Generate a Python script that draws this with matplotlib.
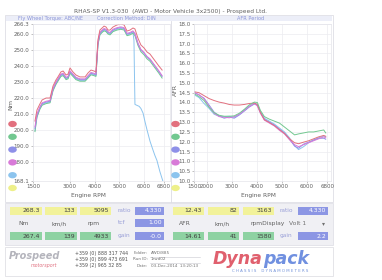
import matplotlib
matplotlib.use("Agg")
import matplotlib.pyplot as plt
from matplotlib.patches import Rectangle, Circle

W, H = 382, 280

# ---------------- data ----------------
torque_rpm = [1580, 1660, 1780, 1870, 2030, 2190, 2310, 2430, 2510, 2630, 2720, 2840, 2920, 3000,
              3120, 3240, 3400, 3610, 3730, 3850, 3970, 4050, 4130, 4210, 4300, 4380, 4460, 4540,
              4620, 4740, 4900, 5060, 5190, 5310, 5430, 5550, 5630, 5750, 5870, 6000, 6120, 6240,
              6360, 6480, 6600, 6730]
torque_red = [205.6, 212.5, 216.3, 218.8, 220.0, 220.0, 227.5, 231.3, 233.2, 236.3, 236.9, 234.4,
              235.0, 238.8, 236.3, 234.4, 233.2, 233.2, 235.7, 237.5, 236.9, 236.3, 256.3, 262.5,
              263.8, 265.0, 264.4, 262.5, 262.5, 264.4, 265.7, 266.3, 265.7, 261.9, 262.5, 263.8,
              263.2, 257.5, 253.2, 251.3, 248.8, 247.5, 245.0, 242.5, 240.0, 237.5]
torque_green = [199.0, 208.0, 213.0, 215.5, 216.5, 217.0, 224.5, 228.5, 230.5, 233.5, 234.0, 231.5,
                232.0, 235.5, 233.5, 231.5, 230.5, 230.5, 232.5, 234.5, 234.0, 233.5, 253.0, 259.5,
                261.0, 262.0, 261.5, 260.0, 259.5, 261.5, 262.5, 263.0, 262.5, 259.0, 259.5, 260.5,
                259.0, 253.0, 249.0, 247.0, 244.5, 243.0, 240.5, 238.0, 235.5, 232.5]
torque_blue = [201.0, 209.0, 214.0, 216.5, 217.5, 218.0, 225.5, 229.5, 231.5, 234.5, 235.0, 232.5,
               233.0, 236.5, 234.5, 232.5, 231.5, 231.5, 233.5, 235.5, 235.0, 234.5, 254.0, 260.5,
               262.0, 263.0, 262.5, 261.0, 260.5, 262.5, 263.5, 264.0, 263.5, 260.0, 260.5, 261.5,
               260.0, 254.0, 250.0, 248.0, 245.5, 244.0, 241.5, 239.0, 236.5, 233.5]
torque_magenta = [202.0, 210.0, 214.5, 217.0, 218.0, 218.5, 226.0, 230.0, 232.0, 235.0, 235.5, 233.0,
                  233.5, 237.0, 235.0, 233.0, 232.0, 232.0, 234.0, 236.0, 235.5, 235.0, 254.5, 261.0,
                  262.5, 263.5, 263.0, 261.5, 261.0, 263.0, 264.0, 264.5, 264.0, 260.5, 261.0, 262.0,
                  260.5, 254.5, 250.5, 248.5, 246.0, 244.5, 242.0, 239.5, 237.0, 234.0]
lb_rpm = [1580, 1660, 1780, 1870, 2030, 2190, 2310, 2430, 2510, 2630, 2720, 2840, 2920, 3000,
          3120, 3240, 3400, 3610, 3730, 3850, 3970, 4050, 4130, 4210, 4300, 4380, 4460, 4540,
          4620, 4740, 4900, 5060, 5190, 5310, 5430, 5550, 5590, 5610, 5630, 5700, 5800, 5870,
          5960, 6040, 6120, 6240, 6360, 6440, 6520, 6640, 6760]
torque_lightblue = [199.5, 208.5, 213.5, 216.0, 217.0, 217.5, 225.0, 229.0, 231.0, 234.0, 234.5, 232.0,
                    232.5, 236.0, 234.0, 232.0, 231.0, 231.0, 233.0, 235.0, 234.5, 234.0, 253.5, 260.0,
                    261.5, 262.5, 262.0, 260.5, 260.0, 262.0, 263.0, 263.5, 263.0, 259.5, 260.0, 261.0,
                    256.0, 235.0, 216.0, 215.5, 214.8, 213.5, 210.5, 205.0, 200.0, 193.0, 187.5,
                    184.0, 181.0, 174.0, 168.1]

afr_rpm = [1500, 1700, 1900, 2100, 2300, 2500, 2700, 2900, 3100, 3300, 3500, 3700, 3900, 4020,
           4140, 4300, 4500, 4700, 4900, 5100, 5300, 5500, 5660, 5860, 6060, 6260, 6460, 6660, 6740]
afr_red = [14.55, 14.50, 14.35, 14.20, 14.10, 14.02, 13.97, 13.90, 13.87, 13.87, 13.90, 13.95, 13.97,
           13.90, 13.50, 13.12, 12.98, 12.82, 12.62, 12.42, 12.15, 11.95, 11.90, 11.98, 12.05, 12.15,
           12.25, 12.32, 12.28]
afr_green = [14.45, 14.30, 14.10, 13.75, 13.48, 13.35, 13.30, 13.30, 13.32, 13.45, 13.65, 13.88, 14.02,
             14.00, 13.60, 13.28, 13.15, 13.05, 12.95, 12.75, 12.55, 12.35, 12.40, 12.45, 12.50, 12.50,
             12.55, 12.60, 12.45]
afr_blue = [14.53, 14.38, 14.22, 13.87, 13.51, 13.31, 13.20, 13.26, 13.20, 13.36, 13.56, 13.77, 13.92,
            13.87, 13.51, 13.15, 13.00, 12.85, 12.64, 12.44, 12.13, 11.78, 11.67, 11.88, 11.98, 12.08,
            12.18, 12.18, 12.13]
afr_magenta = [14.48, 14.40, 14.18, 13.80, 13.45, 13.28, 13.25, 13.22, 13.28, 13.40, 13.60, 13.80, 13.95,
               13.82, 13.45, 13.10, 12.95, 12.80, 12.58, 12.40, 12.10, 11.85, 11.75, 11.85, 11.95, 12.05,
               12.15, 12.25, 12.20]
afr_lightblue = [14.40, 14.25, 13.95, 13.70, 13.40, 13.30, 13.28, 13.30, 13.25, 13.40, 13.62, 13.82, 13.98,
                 13.90, 13.55, 13.20, 13.05, 12.90, 12.70, 12.50, 12.20, 11.80, 11.60, 11.75, 11.95, 12.10,
                 12.20, 12.30, 12.25]

torque_ticks = [266.3, 260.0, 250.0, 240.0, 230.0, 220.0, 210.0, 200.0, 190.0, 180.0, 168.1]
afr_ticks = [18.0, 17.5, 17.0, 16.5, 16.0, 15.5, 15.0, 14.5, 14.0, 13.5, 13.0, 12.5, 12.0, 11.5, 11.0, 10.5, 10.0]
left_xticks = [1500, 3000, 4000, 5000, 6000, 6800]
right_xticks = [1500, 2000, 3000, 4000, 5000, 6000, 6800]

readout_left_top = ["268.3", "133", "5095"]
readout_left_units = ["Nm", "km/h", "rpm"]
readout_left_bot = ["267.4", "139", "4933"]
readout_left_side = [("ratio", "4.330"), ("tcf", "1.00"), ("gain", "-0.0")]
readout_right_top = ["12.43", "82", "3163"]
readout_right_units = ["AFR", "km/h", "rpmDisplay"]
readout_right_bot = ["14.61", "41", "1580"]
readout_right_side = [("ratio", "4.330"), ("gain", "2.2")]

C_RED, C_GREEN, C_BLUE = "#e2707e", "#72c890", "#8e90e8"
C_MAG, C_LBLUE, C_YEL = "#d87ad8", "#8cc4ee", "#eef08a"
dot_colors = [C_RED, C_GREEN, C_BLUE, C_MAG, C_LBLUE, C_YEL]

# ---------------- figure ----------------
fig = plt.figure(figsize=(W / 100, H / 100), dpi=100)
fig.patch.set_facecolor("white")


def fx(x):
    return x / W


def fy(y):
    return 1 - y / H


def rect(x0, y0, x1, y1, fc, ec="none", lw=0.5, z=0):
    fig.add_artist(Rectangle((fx(x0), fy(y1)), fx(x1) - fx(x0), fy(y0) - fy(y1),
                             transform=fig.transFigure, facecolor=fc, edgecolor=ec, lw=lw, zorder=z))


def text(x, y, s, size=4.3, color="#606060", ha="left", va="center", **kw):
    fig.text(fx(x), fy(y), s, fontsize=size, color=color, ha=ha, va=va, **kw)


# page frame and header band
rect(5, 15, 333, 202, "white", ec="#d8d8e0", lw=0.5, z=-2)
rect(6, 16, 332, 21, "#eceef8", z=-1)
text(170, 11, "RHAS-SP V1.3-030  (AWD - Motor Vehicle 3x2500) - Prospeed Ltd.", size=4.2, ha="center")
text(50, 18.5, "Fly Wheel Torque: ABC/NE", size=3.6, color="#8a94d8", ha="center")
text(126, 18.5, "Correction Method: DIN", size=3.6, color="#8a94d8", ha="center")
text(251, 18.5, "AFR Period", size=3.6, color="#8a94d8", ha="center")
fig.add_artist(plt.Line2D([fx(171), fx(171)], [fy(21), fy(202)], transform=fig.transFigure,
                          color="#dcdce4", lw=0.6))

# axes
axL = fig.add_axes([fx(33), fy(181), fx(170) - fx(33), fy(24) - fy(181)])
axR = fig.add_axes([fx(194), fy(181), fx(331) - fx(194), fy(24) - fy(181)])

for ax in (axL, axR):
    ax.set_facecolor("white")
    for sp in ax.spines.values():
        sp.set_color("#e4e4ea")
        sp.set_linewidth(0.5)
    ax.grid(True, color="#ececf0", lw=0.5)
    ax.tick_params(labelsize=4.0, labelcolor="#606060", color="#909090", length=1.5, width=0.4, pad=1)

lw = 0.7
axL.plot(lb_rpm, torque_lightblue, color=C_LBLUE, lw=lw)
axL.plot(torque_rpm, torque_green, color=C_GREEN, lw=lw)
axL.plot(torque_rpm, torque_blue, color=C_BLUE, lw=lw)
axL.plot(torque_rpm, torque_magenta, color=C_MAG, lw=lw)
axL.plot(torque_rpm, torque_red, color=C_RED, lw=lw)
axL.set_xlim(1500, 7050)
axL.set_ylim(168.1, 266.3)
axL.set_yticks(torque_ticks)
axL.set_yticklabels([f"{v:.1f}" for v in torque_ticks])
axL.set_xticks(left_xticks)
axL.set_xticklabels([str(v) for v in left_xticks])

axR.plot(afr_rpm, afr_lightblue, color=C_LBLUE, lw=lw)
axR.plot(afr_rpm, afr_blue, color=C_BLUE, lw=lw)
axR.plot(afr_rpm, afr_magenta, color=C_MAG, lw=lw)
axR.plot(afr_rpm, afr_red, color=C_RED, lw=lw)
axR.plot(afr_rpm, afr_green, color=C_GREEN, lw=lw)
axR.set_xlim(1500, 6950)
axR.set_ylim(10.0, 18.0)
axR.set_yticks(afr_ticks)
axR.set_yticklabels([f"{v:.1f}" for v in afr_ticks])
axR.set_xticks(right_xticks)
axR.set_xticklabels([str(v) for v in right_xticks])

text(88, 196, "Engine RPM", size=4.2, ha="center")
text(258, 196, "Engine RPM", size=4.2, ha="center")
text(11, 105, "Nm", size=4.6, ha="center", rotation=90)
text(175, 90, "AFR", size=4.4, ha="center", rotation=90)

# coloured selection dots
for i, c in enumerate(dot_colors):
    yy = 124 + i * 12.8
    for xx in (12.5, 175.5):
        fig.add_artist(Circle((fx(xx), fy(yy)), 4.3 / W, transform=fig.transFigure,
                              facecolor=c, edgecolor="none", zorder=5))

# ---------------- readout panel ----------------
rect(5, 203, 333, 245, "#f0f0f4", ec="#dcdce4", lw=0.5, z=-1)
YEL_BOX, GRN_BOX, BLU_BOX = "#f2f29a", "#8ed2a2", "#8c96e4"


def box(x0, x1, y0, y1, fc, s, tc="#404040"):
    rect(x0, y0, x1, y1, fc, z=1)
    fig.text(fx(x1 - 2), fy((y0 + y1) / 2), s, fontsize=4.4, color=tc, ha="right", va="center", zorder=2)


lx = [(10, 42), (45, 77), (80, 111)]
rx = [(173, 204), (208, 239), (243, 274)]
for (a, b), s in zip(lx, readout_left_top):
    box(a, b, 207, 215, YEL_BOX, s)
for (a, b), s in zip(lx, readout_left_bot):
    box(a, b, 232, 240, GRN_BOX, s)
for (a, b), s in zip(lx, readout_left_units):
    text((a + b) / 2 - 2, 223.5, s, size=4.3, ha="center")
for yy, (lab, val) in zip([211, 223, 236], readout_left_side):
    text(118, yy, lab, size=4.2, color="#9aa0d8")
    box(135, 164, yy - 4, yy + 4, BLU_BOX, val, tc="white")

for (a, b), s in zip(rx, readout_right_top):
    box(a, b, 207, 215, YEL_BOX, s)
for (a, b), s in zip(rx, readout_right_bot):
    box(a, b, 232, 240, GRN_BOX, s)
text(185, 223.5, readout_right_units[0], size=4.3, ha="center")
text(222, 223.5, readout_right_units[1], size=4.3, ha="center")
text(268, 223.5, readout_right_units[2], size=4.3, ha="center")
text(289, 223.5, "Volt 1", size=4.3, color="#707070")
text(323, 223.5, "\u25be", size=4.3, color="#707070", ha="center")
for yy, (lab, val) in zip([211, 236], readout_right_side):
    text(280, yy, lab, size=4.2, color="#9aa0d8")
    box(298, 328, yy - 4, yy + 4, BLU_BOX, val, tc="white")

# ---------------- footer ----------------
rect(5, 247, 333, 276, "white", ec="#dadae0", lw=0.5, z=-1)
text(34, 256, "Prospeed", size=7.0, color="#b4b4bc", ha="center", fontweight="bold", style="italic")
text(44, 265.5, "motorsport", size=3.4, color="#e07080", ha="center", style="italic")
text(75, 253.5, "+359 (0) 888 317 744", size=3.4, color="#505050")
text(75, 259.5, "+359 (0) 899 473 691", size=3.4, color="#505050")
text(75, 265.5, "+359 (2) 965 32 85", size=3.4, color="#505050")
text(148, 253.5, "Folder:", size=3.0, color="#707070", ha="right")
text(151, 253.5, "AWD/885", size=3.0, color="#707070")
text(148, 259.5, "Run ID:", size=3.0, color="#707070", ha="right")
text(151, 259.5, "1rwd02", size=3.0, color="#707070")
text(148, 266, "Date:", size=3.0, color="#707070", ha="right")
text(151, 266, "03-Dec-2014  13:20:13", size=3.0, color="#707070")
for yy in (256.5, 262.5):
    fig.add_artist(plt.Line2D([fx(150), fx(200)], [fy(yy), fy(yy)], transform=fig.transFigure,
                              color="#c8c8d0", lw=0.4))
text(263, 259, "Dyna", size=12.5, color="#e0606e", ha="right", fontweight="bold", style="italic")
text(263, 259, "pack", size=12.5, color="#7090e0", ha="left", fontweight="bold", style="italic")
text(270, 270.5, "C H A S S I S    D Y N A M O M E T E R S", size=2.8, color="#7090d8", ha="center")

fig.savefig("out.png", dpi=100, facecolor="white")
